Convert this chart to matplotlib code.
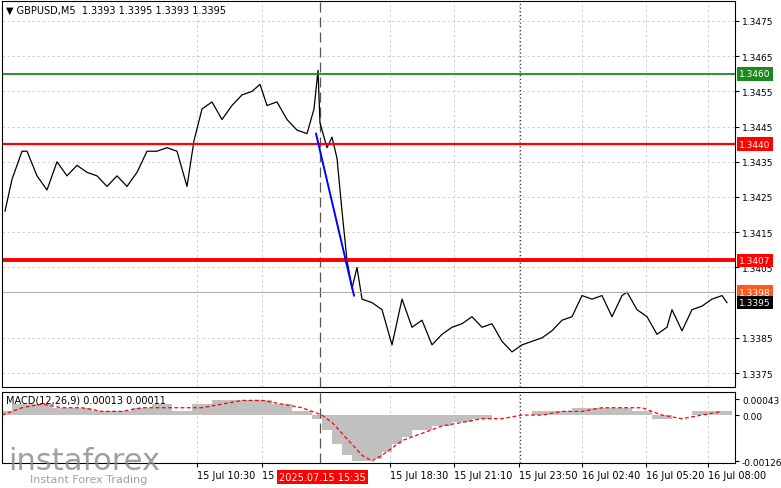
import matplotlib
matplotlib.use("Agg")
import matplotlib.pyplot as plt
import numpy as np

# price path (x in chart units, close price)
px = [3,10,20,25,35,45,55,65,75,85,95,105,115,125,135,145,155,165,175,185,192,200,210,220,230,240,250,258,265,275,285,295,305,312,316,318,325,330,335,340,345,350,355,360,370,380,390,400,410,420,430,440,450,460,470,480,490,500,510,520,530,540,550,560,570,580,590,600,610,620,625,635,645,655,665,670,680,690,700,710,720,725]
price = [1.3421,1.3430,1.3438,1.3438,1.3431,1.3427,1.3435,1.3431,1.3434,1.3432,1.3431,1.3428,1.3431,1.3428,1.3432,1.3438,1.3438,1.3439,1.3438,1.3428,1.3441,1.3450,1.3452,1.3447,1.3451,1.3454,1.3455,1.3457,1.3451,1.3452,1.3447,1.3444,1.3443,1.3450,1.3461,1.3446,1.3439,1.3442,1.3436,1.3421,1.3407,1.3399,1.3405,1.3396,1.3395,1.3393,1.3383,1.3396,1.3388,1.3390,1.3383,1.3386,1.3388,1.3389,1.3391,1.3388,1.3389,1.3384,1.3381,1.3383,1.3384,1.3385,1.3387,1.3390,1.3391,1.3397,1.3396,1.3397,1.3391,1.3397,1.3398,1.3393,1.3391,1.3386,1.3388,1.3393,1.3387,1.3393,1.3394,1.3396,1.3397,1.3395]
macd_x = [0,20,40,60,80,100,120,140,160,180,200,220,240,260,280,300,320,330,340,350,360,370,380,390,400,420,440,460,480,500,520,540,560,580,600,620,640,660,680,700,720]
macd_h = [0.0001,0.0003,0.0003,0.0002,0.0002,0.0001,0.0001,0.0002,0.0003,0.0001,0.0003,0.0004,0.0004,0.0004,0.0003,0.0001,-0.0001,-0.0004,-0.0008,-0.0011,-0.00125,-0.0012,-0.0010,-0.0008,-0.0006,-0.0004,-0.0003,-0.0002,-0.0001,0.0,0.0,0.0001,0.0001,0.0002,0.0002,0.0002,0.0001,-0.0001,0.0,0.0001,0.0001]
macd_s = [0.0,0.0002,0.0003,0.0002,0.0002,0.0001,0.0001,0.0002,0.0002,0.0002,0.0002,0.0003,0.0004,0.0004,0.0003,0.0002,0.0,-0.0002,-0.0005,-0.0008,-0.0011,-0.00125,-0.0011,-0.0009,-0.0007,-0.0005,-0.0003,-0.0002,-0.0001,-0.0001,0.0,0.0,0.0001,0.0001,0.0002,0.0002,0.0002,0.0,-0.0001,0.0,0.0001]
xtick_pos = [195,260,388,452,517,580,644,706]
xtick_lab = ["15 Jul 10:30","15 Jul 13:10","15 Jul 18:30","15 Jul 21:10","15 Jul 23:50","16 Jul 02:40","16 Jul 05:20","16 Jul 08:00"]
yticks = [1.3375,1.3385,1.3405,1.3415,1.3425,1.3435,1.3445,1.3455,1.3465,1.3475]

fig = plt.figure(figsize=(7.81,4.89), dpi=100)
W,H = 781,489
ax = fig.add_axes([2/W, 1-388/H, 733/W, 386/H])
am = fig.add_axes([2/W, 1-464/H, 733/W, 71/H])
p_top = 1.3475 + 20/35300; p_bot = 1.3475 - 367/35300
for a in (ax, am):
    a.set_xlim(0,733)
    for s in a.spines.values(): s.set_linewidth(0.8)
    a.tick_params(axis='y', which='both', right=True, left=False, labelright=True, labelleft=False, labelsize=6.5, length=3, pad=2)
    a.set_xticks(xtick_pos)
    for x in xtick_pos:
        a.axvline(x, color='#c8c8c8', ls=(0,(3,3)), lw=0.6)
ax.set_ylim(p_bot, p_top)
ax.set_yticks(yticks)
ax.set_yticklabels([f"{v:.4f}" for v in yticks])
for v in yticks:
    ax.axhline(v, color='#c8c8c8', ls=(0,(3,3)), lw=0.6)
ax.tick_params(axis='x', length=0, labelbottom=False)
ax.axvline(318, color='#555555', ls=(0,(8,4)), lw=0.9)
ax.axvline(518, color='#333333', ls=(0,(1,2)), lw=0.9)
am.axvline(318, color='#555555', ls=(0,(8,4)), lw=0.9)
am.axvline(518, color='#333333', ls=(0,(1,2)), lw=0.9)
ax.plot(px, price, color='black', lw=0.9)
ax.axhline(1.3460, color='#1a8a1a', lw=1.3)
ax.axhline(1.3440, color='red', lw=1.6)
ax.axhline(1.3407, color='red', lw=2.8)
ax.axhline(1.3398, color='#aaaaaa', lw=0.7)
ax.plot([314,352],[1.3443,1.3397], color='blue', lw=1.4)
for v,fc,tc in [(1.3460,'#1a8a1a','white'),(1.3440,'red','white'),(1.3407,'red','white'),(1.3398,'#ff5a1e','white'),(1.3395,'black','white')]:
    ax.text(737, v, f"{v:.4f}", transform=ax.transData, fontsize=6.5, color=tc, va='center', ha='left', clip_on=False,
            bbox=dict(boxstyle='square,pad=0.25', fc=fc, ec='none'))
ax.text(4, p_top-0.00012, "\u25bc GBPUSD,M5  1.3393 1.3395 1.3393 1.3395", fontsize=7, va='top', family=['DejaVu Sans'])

am.bar(macd_x, macd_h, width=20, color='#c0c0c0', align='center')
am.plot(macd_x, macd_s, color='red', ls=(0,(3,2)), lw=0.9)
am.set_ylim(-0.00126-0.00005, 0.00043+0.0002)
am.set_yticks([0.00043,0.0,-0.00126])
am.set_yticklabels(["0.00043","0.00","-0.00126"])
am.set_xticklabels(xtick_lab, fontsize=7, ha='left')
am.tick_params(axis='x', length=3, pad=2)
am.text(4, 0.00056, "MACD(12,26,9) 0.00013 0.00011", fontsize=7, va='top')
fig.text(279/W, 1-478/H, "2025.07.15 15:35", fontsize=7, color='white', va='center',
         bbox=dict(boxstyle='square,pad=0.25', fc='red', ec='none'))
fig.text(8/W, 1-462/H, "instaforex", fontsize=22, color='#888888', alpha=0.8, va='center')
fig.text(30/W, 1-480/H, "Instant Forex Trading", fontsize=8, color='#888888', alpha=0.8, va='center')
fig.savefig("out.png", dpi=100)
